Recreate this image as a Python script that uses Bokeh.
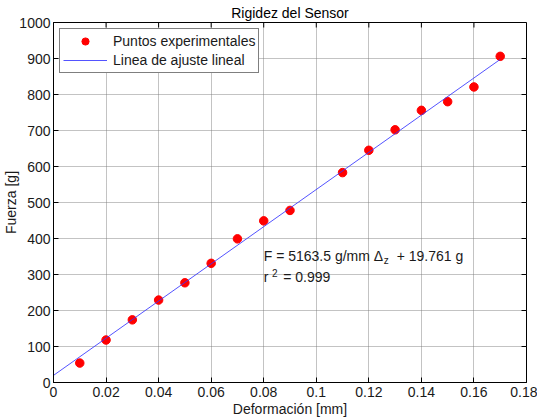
import math
from bokeh.plotting import figure
from bokeh.models import (Range1d, FixedTicker, Label, Legend,
                          LegendItem, ColumnDataSource)
from bokeh.embed import file_html
from bokeh.resources import INLINE

# ---- data ----
deformacion = [0.01, 0.02, 0.03, 0.04, 0.05, 0.06, 0.07, 0.08, 0.09,
               0.11, 0.12, 0.13, 0.14, 0.15, 0.16, 0.17]
fuerza = [54, 118, 174, 229, 277, 331, 399, 449, 478,
          583, 645, 702, 756, 780, 821, 906]
pendiente = 5163.5
intercepto = 19.761
ajuste_x = [0.0, 0.17]
ajuste_y = [intercepto + pendiente * x for x in ajuste_x]

x_ticks = [0, 0.02, 0.04, 0.06, 0.08, 0.1, 0.12, 0.14, 0.16, 0.18]
x_tick_labels = ["0", "0.02", "0.04", "0.06", "0.08", "0.1", "0.12", "0.14", "0.16", "0.18"]
y_ticks = [0, 100, 200, 300, 400, 500, 600, 700, 800, 900, 1000]
y_tick_labels = [str(v) for v in y_ticks]
x_lim = (0, 0.18)
y_lim = (0, 1000)

titulo = "Rigidez del Sensor"
x_label = "Deformación [mm]"
y_label = "Fuerza [g]"
leyenda = ["Puntos experimentales", "Linea de ajuste lineal"]
eq_pos = (0.08, 351)
r2_pos = (0.08, 292)

FONT = "Liberation Sans"
FS = "14px"
TXT = "#1a1a1a"

p = figure(width=537, height=420, output_backend="svg", toolbar_location=None,
           x_range=Range1d(*x_lim), y_range=Range1d(*y_lim),
           min_border_left=53, min_border_right=11, min_border_top=22,
           min_border_bottom=38, title=titulo, background_fill_color="white",
           border_fill_color="white")

p.title.text_font = FONT
p.title.text_font_size = FS
p.title.text_font_style = "normal"
p.title.text_color = "black"
p.title.align = "center"
p.title.vertical_align = "top"
p.title.standoff = 0

xt = FixedTicker(ticks=x_ticks)
yt = FixedTicker(ticks=y_ticks)


def style_axis(ax, ticker, labels):
    ax.ticker = ticker
    ax.axis_line_color = "black"
    ax.axis_line_width = 1
    ax.major_tick_line_color = "black"
    ax.major_tick_in = 5
    ax.major_tick_out = 0
    ax.minor_tick_line_color = None
    ax.major_label_text_font = FONT
    ax.major_label_text_font_size = FS
    ax.major_label_text_color = TXT
    ax.axis_label_text_font = FONT
    ax.axis_label_text_font_size = FS
    ax.axis_label_text_font_style = "normal"
    ax.axis_label_text_color = TXT
    ax.major_label_overrides = dict(zip(ticker.ticks, labels))


style_axis(p.xaxis[0], xt, x_tick_labels)
style_axis(p.yaxis[0], yt, y_tick_labels)
p.xaxis[0].axis_label = x_label
p.yaxis[0].axis_label = y_label
p.xaxis[0].major_label_standoff = 4
p.xaxis[0].axis_label_standoff = 1
p.yaxis[0].major_label_standoff = 3
p.yaxis[0].axis_label_standoff = -3

p.outline_line_color = "black"
p.outline_line_width = 1

for g, t in ((p.xgrid[0], xt), (p.ygrid[0], yt)):
    g.ticker = t
    g.grid_line_color = "#7a7a7a"
    g.grid_line_dash = "1 1"
    g.grid_line_width = 1
    g.grid_line_alpha = 0.9

# inward ticks on top and right borders (box on)
p.ray(x=x_ticks, y=[y_lim[1]] * len(x_ticks), length=5, length_units="screen",
      angle=-math.pi / 2, line_color="black", line_width=1)
p.ray(x=[x_lim[1]] * len(y_ticks), y=y_ticks, length=5, length_units="screen",
      angle=math.pi, line_color="black", line_width=1)

src_pts = ColumnDataSource(dict(x=deformacion, y=fuerza))
src_fit = ColumnDataSource(dict(x=ajuste_x, y=ajuste_y))

pts = p.scatter("x", "y", source=src_pts, size=8.5, fill_color="#ff0000",
                line_color="#ff0000")
fit = p.line("x", "y", source=src_fit, line_color="#3535ff", line_width=1,
             line_alpha=0.85)

legend = Legend(items=[LegendItem(label=leyenda[0], renderers=[pts]),
                       LegendItem(label=leyenda[1], renderers=[fit])],
                location="top_left", margin=6, padding=3, spacing=1,
                label_height=18, glyph_height=18, glyph_width=44,
                label_standoff=6, border_line_color="black",
                border_line_width=1, background_fill_color="white",
                background_fill_alpha=1, label_text_font=FONT,
                label_text_font_size=FS, label_text_color=TXT)
p.add_layout(legend)

common = dict(x_units="data", y_units="data", text_font=FONT,
              text_color=TXT, text_baseline="middle")
p.add_layout(Label(x=eq_pos[0], y=eq_pos[1], text="F = 5163.5 g/mm Δ",
                   text_font_size=FS, **common))
p.add_layout(Label(x=eq_pos[0], y=eq_pos[1], x_offset=120, y_offset=-4.5,
                   text="z", text_font_size="10px", **common))
p.add_layout(Label(x=eq_pos[0], y=eq_pos[1], x_offset=133,
                   text="+ 19.761 g", text_font_size=FS, **common))
p.add_layout(Label(x=r2_pos[0], y=r2_pos[1], text="r",
                   text_font_size=FS, **common))
p.add_layout(Label(x=r2_pos[0], y=r2_pos[1], x_offset=8.3, y_offset=4.5,
                   text="2", text_font_size="10px", **common))
p.add_layout(Label(x=r2_pos[0], y=r2_pos[1], x_offset=19.5,
                   text="= 0.999", text_font_size=FS, **common))

open("out.html", "w").write(file_html(p, INLINE))
